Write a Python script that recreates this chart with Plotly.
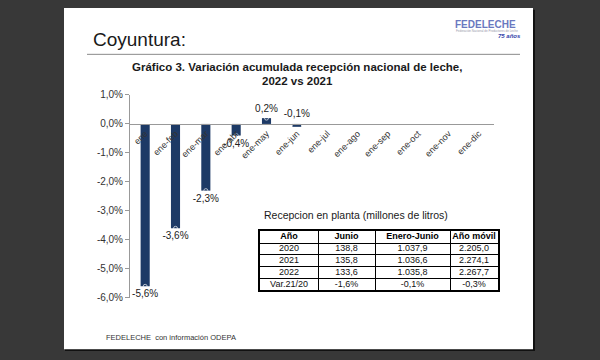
import plotly.graph_objects as go

W, H = 600, 360

categories = ["ene", "ene-feb", "ene-mar", "ene-abr", "ene-may", "ene-jun",
              "ene-jul", "ene-ago", "ene-sep", "ene-oct", "ene-nov", "ene-dic"]
variation = [-0.056, -0.036, -0.023, -0.004, 0.002, -0.001,
             None, None, None, None, None, None]

y_ticks = [0.01, 0.0, -0.01, -0.02, -0.03, -0.04, -0.05, -0.06]
y_tick_labels = ["1,0%", "0,0%", "-1,0%", "-2,0%", "-3,0%", "-4,0%", "-5,0%", "-6,0%"]

table_header = ["Año", "Junio", "Enero-Junio", "Año móvil"]
col_year = ["2020", "2021", "2022", "Var.21/20"]
col_junio = ["138,8", "135,8", "133,6", "-1,6%"]
col_ene_jun = ["1.037,9", "1.036,6", "1.035,8", "-0,1%"]
col_movil = ["2.205,0", "2.274,1", "2.267,7", "-0,3%"]

# where each bar's value label sits (style, not data)
label_positions = ["bottom center", "bottom center", "bottom center", "bottom center",
                   "top center", "top center", "top center", "top center",
                   "top center", "top center", "top center", "top center"]
label_gap = [4, 4, 4, 4, 4, 10, 4, 4, 4, 4, 4, 4]


def px(x):
    return x / W


def py(y):
    return 1 - y / H


FONT = "Arial, Liberation Sans, sans-serif"

fig = go.Figure()
fig.add_trace(go.Bar(
    x=categories, y=variation,
    marker=dict(color="#1d3a66", line=dict(width=0)),
    width=0.3, hoverinfo="skip",
))
fig.add_trace(go.Scatter(
    x=categories, y=variation, mode="markers+text",
    marker=dict(size=label_gap, color="rgba(0,0,0,0)"),
    texttemplate="%{y:.1%}", textposition=label_positions,
    textfont=dict(size=10, color="#222222", family=FONT),
    cliponaxis=False, hoverinfo="skip",
))

# ---- table drawn on its own pair of axes (grid lines = cell borders)
col_widths = [58, 57, 75, 48]
bounds = [0]
for w in col_widths:
    bounds.append(bounds[-1] + w)
centers = [(bounds[i] + bounds[i + 1]) / 2 for i in range(len(col_widths))]
columns = [col_year, col_junio, col_ene_jun, col_movil]
n_rows = len(col_year) + 1

hx, hy, ht = [], [], []
for c, h in zip(centers, table_header):
    hx.append(c); hy.append(0.5); ht.append("<b>%s</b>" % h)
cx, cy, ct = [], [], []
for c, col in zip(centers, columns):
    for r, v in enumerate(col):
        cx.append(c); cy.append(r + 1.5); ct.append(v)

fig.add_trace(go.Scatter(x=hx, y=hy, text=ht, mode="text", xaxis="x2", yaxis="y2",
                         textfont=dict(size=9, color="#000000", family=FONT),
                         hoverinfo="skip", cliponaxis=False))
fig.add_trace(go.Scatter(x=cx, y=cy, text=ct, mode="text", xaxis="x2", yaxis="y2",
                         textfont=dict(size=9, color="#111111", family=FONT),
                         hoverinfo="skip", cliponaxis=False))

fig.update_layout(
    width=W, height=H,
    margin=dict(l=0, r=0, t=0, b=0),
    paper_bgcolor="#383838",
    plot_bgcolor="rgba(0,0,0,0)",
    separators=",.",
    showlegend=False,
    bargap=0.7,
    font=dict(family=FONT, color="#222222"),
    xaxis=dict(domain=[px(130), px(494)], anchor="free", position=py(122),
               range=[-0.5, len(categories) - 0.5],
               showline=True, linecolor="#999999", linewidth=1,
               ticks="", tickangle=-45, showgrid=False, zeroline=False,
               tickfont=dict(size=9, color="#333333", family=FONT),
               fixedrange=True),
    yaxis=dict(domain=[py(302), py(92)], range=[-0.06, 0.01],
               tickvals=y_ticks, ticktext=y_tick_labels,
               showline=True, linecolor="#999999", linewidth=1,
               ticks="outside", ticklen=4, tickcolor="#999999",
               showgrid=False, zeroline=False,
               tickfont=dict(size=10, color="#333333", family=FONT),
               fixedrange=True),
    xaxis2=dict(domain=[px(260), px(498)], anchor="y2", range=[0, bounds[-1]],
                tickvals=bounds, showticklabels=False, ticks="",
                showgrid=True, gridcolor="#000000", gridwidth=1,
                showline=True, mirror=True, linecolor="#000000", linewidth=1.5,
                zeroline=False, fixedrange=True),
    yaxis2=dict(domain=[py(294), py(233)], anchor="x2", range=[n_rows, 0],
                tickvals=list(range(n_rows + 1)), showticklabels=False, ticks="",
                showgrid=True, gridcolor="#000000", gridwidth=1,
                showline=True, mirror=True, linecolor="#000000", linewidth=1.5,
                zeroline=False, fixedrange=True),
    shapes=[
        dict(type="rect", xref="paper", yref="paper",
             x0=px(65), x1=px(535), y0=py(357), y1=py(4),
             fillcolor="#111111", line=dict(width=0), layer="below"),
        dict(type="rect", xref="paper", yref="paper",
             x0=px(64), x1=px(533), y0=py(355), y1=py(2),
             fillcolor="#ffffff", line=dict(width=0), layer="below"),
        dict(type="line", xref="paper", yref="paper",
             x0=px(87), x1=px(520), y0=py(50), y1=py(50),
             line=dict(color="#8a8a8a", width=1)),
    ],
    annotations=[
        dict(text="Coyuntura:", xref="paper", yref="paper",
             x=px(91), y=py(35), xanchor="left", yanchor="middle",
             showarrow=False, font=dict(size=19, color="#1a1a1a", family=FONT)),
        dict(text="<b>Gráfico 3. Variación acumulada recepción nacional de leche,</b>",
             xref="paper", yref="paper", x=px(297), y=py(63),
             xanchor="center", yanchor="middle", showarrow=False,
             font=dict(size=11.5, color="#1a1a1a", family=FONT)),
        dict(text="<b>2022 vs 2021</b>",
             xref="paper", yref="paper", x=px(297), y=py(78),
             xanchor="center", yanchor="middle", showarrow=False,
             font=dict(size=11.5, color="#1a1a1a", family=FONT)),
        dict(text="Recepcion en planta (millones de litros)",
             xref="paper", yref="paper", x=px(262), y=py(216),
             xanchor="left", yanchor="middle", showarrow=False,
             font=dict(size=10.5, color="#1a1a1a", family=FONT)),
        dict(text="FEDELECHE  con información ODEPA",
             xref="paper", yref="paper", x=px(104), y=py(343),
             xanchor="left", yanchor="middle", showarrow=False,
             font=dict(size=7.5, color="#333333", family=FONT)),
        dict(text="<b>FEDELECHE</b>",
             xref="paper", yref="paper", x=px(453), y=py(19),
             xanchor="left", yanchor="middle", showarrow=False,
             font=dict(size=10, color="#6a78c0", family=FONT)),
        dict(text="Federación Nacional de Productores de Leche",
             xref="paper", yref="paper", x=px(454), y=py(26),
             xanchor="left", yanchor="middle", showarrow=False,
             font=dict(size=3, color="#9999aa", family=FONT)),
        dict(text="<i><b>75 años</b></i>",
             xref="paper", yref="paper", x=px(523), y=py(31),
             xanchor="right", yanchor="middle", showarrow=False,
             font=dict(size=6, color="#3344aa", family=FONT)),
    ],
)

fig.write_html("out.html", config={"displayModeBar": False},
               post_script="document.body.style.margin='0';")
